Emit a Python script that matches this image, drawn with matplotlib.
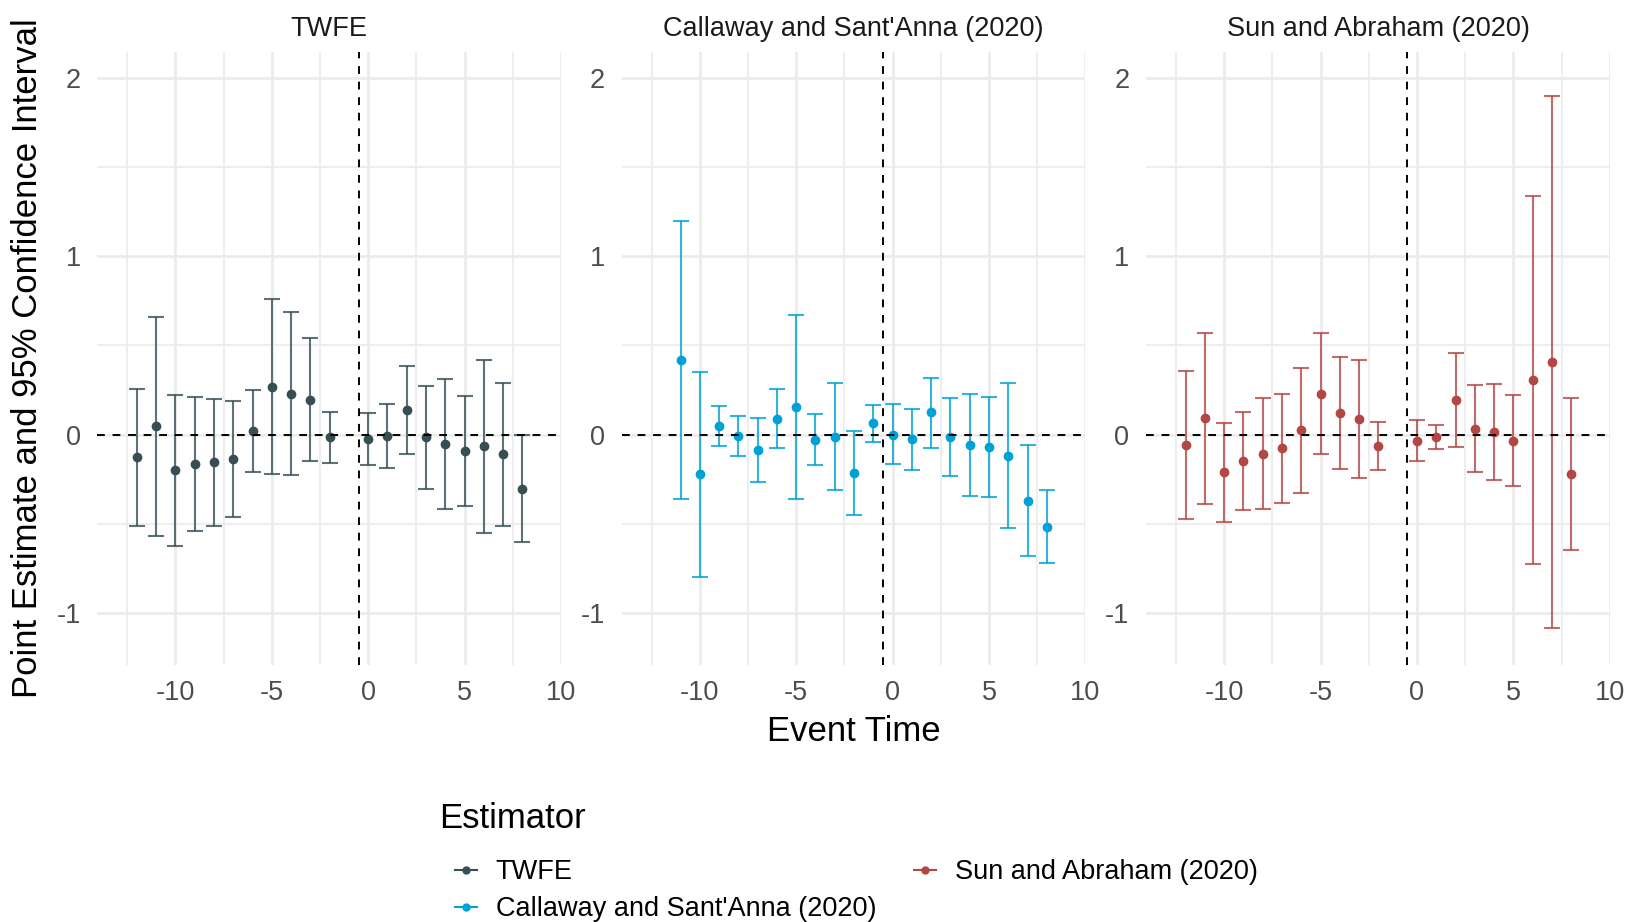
import matplotlib
matplotlib.use("Agg")
import matplotlib.pyplot as plt
from matplotlib.lines import Line2D

plt.rcParams['font.family'] = ['Liberation Sans', 'DejaVu Sans']
plt.rcParams['axes.unicode_minus'] = False

# event times
t_twfe = [-12, -11, -10, -9, -8, -7, -6, -5, -4, -3, -2, 0, 1, 2, 3, 4, 5, 6, 7, 8]
t_cs = [-11, -10, -9, -8, -7, -6, -5, -4, -3, -2, -1, 0, 1, 2, 3, 4, 5, 6, 7, 8]
t_sa = [-12, -11, -10, -9, -8, -7, -6, -5, -4, -3, -2, 0, 1, 2, 3, 4, 5, 6, 7, 8]

# TWFE
est_twfe = [-0.127, 0.049, -0.200, -0.163, -0.155, -0.137, 0.021, 0.268, 0.230, 0.197, -0.015,
            -0.024, -0.006, 0.137, -0.015, -0.052, -0.092, -0.064, -0.110, -0.303]
hi_twfe = [0.257, 0.659, 0.225, 0.213, 0.202, 0.187, 0.253, 0.758, 0.687, 0.539, 0.129,
           0.120, 0.174, 0.382, 0.275, 0.311, 0.217, 0.421, 0.287, -0.002]
lo_twfe = [-0.509, -0.566, -0.625, -0.539, -0.509, -0.463, -0.210, -0.221, -0.227, -0.146, -0.161,
           -0.169, -0.185, -0.110, -0.303, -0.416, -0.399, -0.551, -0.511, -0.599]

# Callaway and Sant'Anna
est_cs = [0.419, -0.221, 0.049, -0.007, -0.086, 0.088, 0.155, -0.028, -0.013, -0.217, 0.064,
          0.000, -0.026, 0.125, -0.015, -0.058, -0.071, -0.118, -0.369, -0.517]
hi_cs = [1.199, 0.350, 0.163, 0.103, 0.092, 0.257, 0.672, 0.118, 0.292, 0.022, 0.167,
         0.170, 0.144, 0.320, 0.208, 0.230, 0.210, 0.287, -0.056, -0.311]
lo_cs = [-0.360, -0.796, -0.066, -0.118, -0.264, -0.077, -0.361, -0.170, -0.309, -0.449, -0.041,
         -0.167, -0.197, -0.073, -0.232, -0.343, -0.348, -0.521, -0.678, -0.719]

# Sun and Abraham
est_sa = [-0.056, 0.092, -0.210, -0.150, -0.106, -0.076, 0.026, 0.228, 0.120, 0.090, -0.062,
          -0.034, -0.012, 0.192, 0.034, 0.014, -0.034, 0.306, 0.406, -0.220]
hi_sa = [0.356, 0.568, 0.066, 0.126, 0.204, 0.226, 0.376, 0.568, 0.436, 0.420, 0.072,
         0.082, 0.052, 0.456, 0.276, 0.282, 0.222, 1.334, 1.898, 0.206]
lo_sa = [-0.472, -0.390, -0.488, -0.422, -0.414, -0.380, -0.324, -0.110, -0.194, -0.240, -0.198,
         -0.150, -0.078, -0.070, -0.208, -0.254, -0.290, -0.722, -1.082, -0.644]

names = ["TWFE", "Callaway and Sant'Anna (2020)", "Sun and Abraham (2020)"]
colors = ["#374E55", "#00A1D5", "#B24745"]
panels = [(t_twfe, est_twfe, lo_twfe, hi_twfe),
          (t_cs, est_cs, lo_cs, hi_cs),
          (t_sa, est_sa, lo_sa, hi_sa)]

W, H = 1629, 922
fig = plt.figure(figsize=(W / 100, H / 100), dpi=100)

lefts = [97.3, 621.7, 1146.1]
pw = 463.7
top, bottom = 51.7, 665.0

for i, (t, est, lo, hi) in enumerate(panels):
    ax = fig.add_axes([lefts[i] / W, 1 - bottom / H, pw / W, (bottom - top) / H])
    c = colors[i]
    yerr = [[e - l for e, l in zip(est, lo)], [h - e for e, h in zip(est, hi)]]
    ax.errorbar(t, est, yerr=yerr, fmt='none', ecolor=c, elinewidth=1.5,
                capsize=5.9, capthick=1.5, alpha=0.8, zorder=3)
    ax.plot(t, est, 'o', color=c, markersize=6, zorder=4)
    ax.axhline(0, color='black', lw=1.4, dashes=(4, 4), zorder=5)
    ax.axvline(-0.5, color='black', lw=1.4, dashes=(4, 4), zorder=5)

    ax.set_xlim(-14.05, 10.0)
    ax.set_ylim(-1.29, 2.145)
    ax.set_xticks([-10, -5, 0, 5, 10])
    ax.set_xticks([-12.5, -7.5, -2.5, 2.5, 7.5], minor=True)
    ax.set_yticks([-1, 0, 1, 2])
    ax.set_yticks([-0.5, 0.5, 1.5], minor=True)
    ax.grid(which='major', color='#EBEBEB', lw=1.9, zorder=0)
    ax.grid(which='minor', color='#EBEBEB', lw=1.2, zorder=0)
    ax.set_axisbelow(True)
    for s in ax.spines.values():
        s.set_visible(False)
    ax.tick_params(which='both', length=0, labelsize=19.5, labelcolor='#4D4D4D')
    ax.tick_params(axis='y', pad=12)
    ax.tick_params(axis='x', pad=11)
    ax.set_title(names[i], fontsize=19.5, color='#1A1A1A', y=1 + (top - 29) / (bottom - top),
                 va='center', pad=0)

fig.text(28 / W, 1 - 358 / H, "Point Estimate and 95% Confidence Interval", rotation=90,
         ha='center', va='center', fontsize=25, color='black')
fig.text(854 / W, 1 - 731 / H, "Event Time", ha='center', va='center', fontsize=25, color='black')

# legend title drawn separately so its gap to the keys can be set
fig.text(439 / W, 1 - 818 / H, "Estimator", ha='left', va='center', fontsize=25, color='black')
handles = [Line2D([0], [0], color=c, marker='o', markersize=5, lw=1.5) for c in colors]
fig.legend(handles, names, loc='upper left', bbox_to_anchor=(455 / W, 1 - 859 / H),
           ncol=2, frameon=False, fontsize=19.5, borderpad=0, borderaxespad=0,
           handlelength=0.8, handletextpad=0.7, columnspacing=1.4, labelspacing=0.42)

fig.savefig("out.png", dpi=100, facecolor='white')
